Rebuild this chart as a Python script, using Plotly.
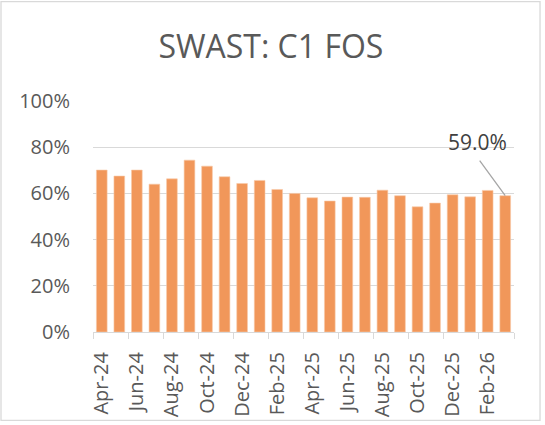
import plotly.graph_objects as go

months = ["Apr-24", "May-24", "Jun-24", "Jul-24", "Aug-24", "Sep-24", "Oct-24", "Nov-24",
          "Dec-24", "Jan-25", "Feb-25", "Mar-25", "Apr-25", "May-25", "Jun-25", "Jul-25",
          "Aug-25", "Sep-25", "Oct-25", "Nov-25", "Dec-25", "Jan-26", "Feb-26", "Mar-26"]
fos_pct = [70.1, 67.5, 70.1, 64.0, 66.3, 74.4, 71.8, 67.2, 64.3, 65.6, 61.7, 60.0,
           58.1, 56.7, 58.4, 58.3, 61.4, 59.0, 54.2, 55.8, 59.4, 58.5, 61.3, 59.0]
y_ticks = [0, 20, 40, 60, 80, 100]

FONT = "Open Sans"
GREY = "#595959"

idx = list(range(len(months)))

fig = go.Figure()
fig.add_trace(go.Bar(
    x=idx, y=fos_pct,
    marker=dict(color="#F1975A", line=dict(color="#F8C9A8", width=0.6)),
    hoverinfo="x+y",
))

last = len(months) - 1
# leader line
fig.add_annotation(x=last, y=fos_pct[-1], text=" ", font=dict(size=1),
                   showarrow=True, arrowhead=0, arrowwidth=1.3, arrowcolor="#A6A6A6",
                   ax=-27, ay=-37, standoff=0)
# data label
fig.add_annotation(x=last, y=fos_pct[-1], text=f"{fos_pct[-1]:.1f}%",
                   showarrow=False, xshift=-28, yshift=54,
                   font=dict(family=FONT, size=21, color="#404040"))

# chart border
fig.add_shape(type="rect", xref="paper", yref="paper",
              x0=-0.2185, x1=1.0618, y0=-0.383, y1=1.4305,
              line=dict(color="#D9D9D9", width=1.3), fillcolor="rgba(0,0,0,0)", layer="below")

fig.update_layout(
    width=545, height=425,
    margin=dict(l=93, r=31, t=101, b=93),
    paper_bgcolor="white", plot_bgcolor="white",
    bargap=0.39,
    showlegend=False,
    title=dict(text="SWAST: C1 FOS", x=0.497, xanchor="center", y=0.89, yanchor="middle",
               font=dict(family=FONT, size=32, color=GREY)),
    font=dict(family=FONT, color=GREY),
    xaxis=dict(
        range=[-0.5, len(months) - 0.5],
        tickmode="array", tickvals=idx[::2], ticktext=months[::2],
        tickangle=-90, ticks="", showgrid=False,
        showline=True, linecolor="#D9D9D9", linewidth=1.3,
        tickfont=dict(family=FONT, size=20, color=GREY),
        ticklabelstandoff=11, automargin=False,
        minor=dict(tickmode="linear", tick0=-0.5, dtick=2, ticks="outside",
                   ticklen=6, tickcolor="#D9D9D9", tickwidth=1.3, showgrid=False),
        fixedrange=True,
    ),
    yaxis=dict(
        range=[0, 100], tickmode="array", tickvals=y_ticks,
        ticktext=[f"{v}%" for v in y_ticks],
        showgrid=True, gridcolor="#D9D9D9", gridwidth=1.3,
        zeroline=False, showline=False, ticks="",
        tickfont=dict(family=FONT, size=20, color=GREY),
        ticklabelstandoff=22, automargin=False,
        fixedrange=True,
    ),
)

fig.write_html("out.html", config={"displayModeBar": False},
               post_script="document.body.style.margin='0';")
